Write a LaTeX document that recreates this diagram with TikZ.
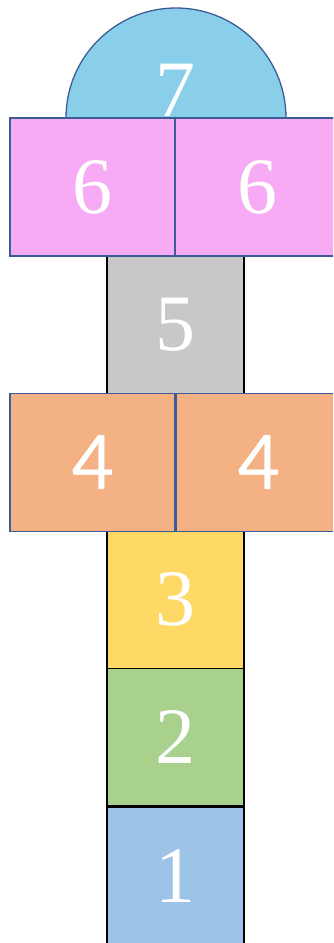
\documentclass[tikz,border=0pt]{standalone}
\usepackage{fontspec}
\setmainfont{Liberation Serif}
\newfontfamily\sansdigits{Carlito}
\definecolor{sevenblue}{RGB}{137,207,233}
\definecolor{sixpink}{RGB}{247,171,245}
\definecolor{fivegray}{RGB}{200,200,200}
\definecolor{fourorange}{RGB}{243,177,132}
\definecolor{threeyellow}{RGB}{255,217,102}
\definecolor{twogreen}{RGB}{169,209,142}
\definecolor{oneblue}{RGB}{157,195,230}
\definecolor{sideline}{RGB}{60,92,150}
\tikzstyle{square}=[inner sep=0pt, line width=1.3pt, text=white, font=\fontsize{80}{80}\selectfont]
\tikzstyle{midbox}=[square, draw=black, minimum width=137pt, minimum height=138pt]
\tikzstyle{sidebox}=[square, draw=sideline, minimum width=165pt, minimum height=138pt]

\begin{document}
\begin{tikzpicture}[x=1pt,y=1pt]
	\useasboundingbox (0,0) rectangle (333,943);
	\clip (0,0) rectangle (333,943);
	\fill[white] (0,0) rectangle (333,943);
	% middle column
	\node [style=midbox, fill=oneblue] (1) at (175.5, 67) {1};
	\node [style=midbox, fill=twogreen] (2) at (175.5, 206) {2};
	\node [style=midbox, fill=threeyellow] (3) at (175.5, 343.5) {3};
	\node [style=midbox, fill=fivegray] (5) at (175.5, 618) {5};
	% side squares
	\node [style=sidebox, fill=fourorange, font=\sansdigits\fontsize{84}{84}\selectfont] (4l) at (92.5, 480.5) {4};
	\node [style=sidebox, fill=fourorange, font=\sansdigits\fontsize{84}{84}\selectfont] (4r) at (258.5, 480.5) {4};
	\draw [draw=sideline, fill=sevenblue, line width=1.3pt] (66,825) arc (180:0:110) -- cycle;
	\node [text=white, font=\fontsize{80}{80}\selectfont] (7) at (175, 853) {7};
	\node [style=sidebox, fill=sixpink] (6l) at (92.5, 756) {6};
	\node [style=sidebox, fill=sixpink] (6r) at (257.5, 756) {6};
\end{tikzpicture}
\end{document}
